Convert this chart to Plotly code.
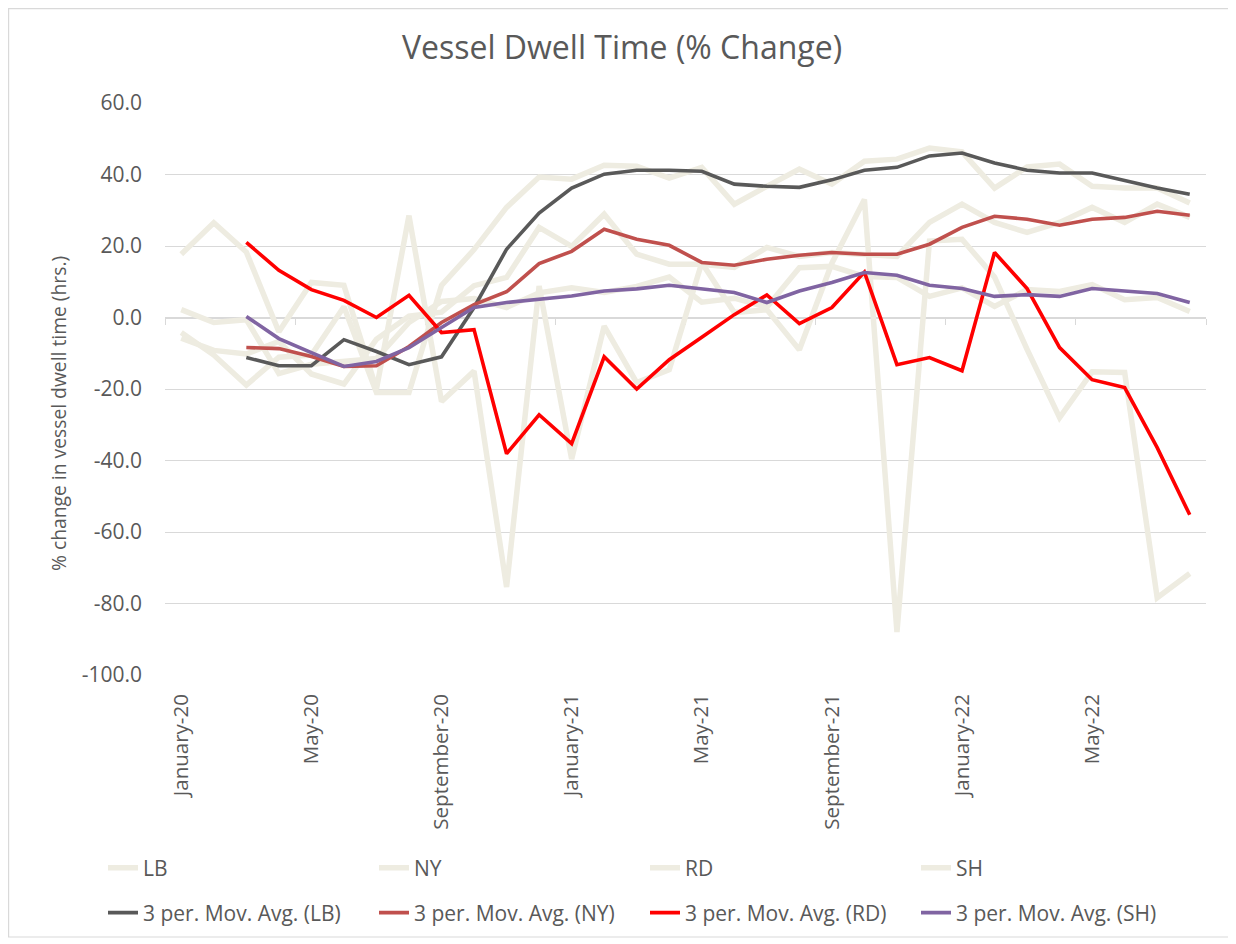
import plotly.graph_objects as go

months = ["January-20", "February-20", "March-20", "April-20", "May-20", "June-20",
          "July-20", "August-20", "September-20", "October-20", "November-20", "December-20",
          "January-21", "February-21", "March-21", "April-21", "May-21", "June-21",
          "July-21", "August-21", "September-21", "October-21", "November-21", "December-21",
          "January-22", "February-22", "March-22", "April-22", "May-22", "June-22",
          "July-22", "August-22"]

LB = [-4.2, -10.5, -18.9, -11.1, -10.5, 3.0, -21.0, -21.0, 9.0, 19.0, 30.8, 39.3,
      38.7, 42.6, 42.3, 39.0, 42.0, 31.7, 36.7, 41.5, 37.3, 43.7, 44.3, 47.4,
      46.3, 36.2, 42.1, 42.9, 36.7, 36.2, 36.2, 32.0]
NY = [-5.8, -9.2, -10.2, -6.7, -15.8, -18.6, -6.1, 0.4, 1.5, 8.9, 11.2, 25.2,
      19.9, 28.9, 17.7, 14.9, 14.9, 14.0, 19.6, 17.1, 18.2, 17.8, 17.1, 26.6,
      31.7, 26.6, 23.8, 26.6, 30.8, 26.6, 31.7, 28.0]
RD = [17.7, 26.5, 18.3, -4.0, 9.8, 9.0, -20.0, 28.5, -23.5, -15.0, -75.4, 8.8,
      -39.6, -2.4, -18.2, -14.6, 15.3, 1.4, 2.2, -9.0, 15.2, 33.0, -88.0, 21.4,
      21.9, 11.3, -8.9, -28.0, -15.2, -15.4, -78.4, -71.6]
SH = [2.2, -1.4, -0.6, -15.7, -13.1, -12.3, -11.5, -1.4, 4.5, 5.3, 2.8, 6.9,
      8.3, 7.0, 8.7, 11.3, 4.3, 5.4, 2.9, 13.9, 14.3, 11.5, 11.2, 5.9,
      8.3, 3.1, 7.8, 7.3, 9.2, 5.0, 5.6, 1.7]

# 3-period moving averages (March-20 .. August-22)
LB_MA = [-11.2, -13.5, -13.5, -6.2, -9.5, -13.2, -11.0, 2.8, 19.1, 29.2,
         36.2, 40.1, 41.2, 41.2, 40.9, 37.3, 36.7, 36.4, 38.5, 41.2, 42.0, 45.2,
         46.0, 43.2, 41.2, 40.4, 40.4, 38.4, 36.2, 34.5]
NY_MA = [-8.4, -8.7, -10.9, -13.7, -13.5, -8.1, -1.4, 3.6, 7.2, 15.1,
         18.5, 24.7, 21.9, 20.2, 15.4, 14.6, 16.3, 17.4, 18.2, 17.7, 17.7, 20.5,
         25.2, 28.3, 27.5, 25.8, 27.5, 28.0, 29.7, 28.6]
RD_MA = [21.0, 13.2, 7.8, 4.8, 0.0, 6.2, -4.2, -3.4, -38.1, -27.2,
         -35.3, -11.0, -20.0, -11.8, -5.5, 0.8, 6.3, -1.7, 2.8, 12.7, -13.2, -11.2,
         -14.9, 18.2, 8.1, -8.4, -17.4, -19.6, -36.4, -55.2]
SH_MA = [0.3, -5.9, -9.8, -13.7, -12.3, -8.4, -2.8, 2.8, 4.2, 5.0,
         6.0, 7.4, 8.0, 9.0, 8.1, 7.0, 4.2, 7.4, 9.8, 12.6, 11.8, 9.0,
         8.1, 5.9, 6.4, 5.9, 8.1, 7.3, 6.7, 4.2]

tick_labels = ["January-20", "May-20", "September-20", "January-21",
               "May-21", "September-21", "January-22", "May-22"]
y_ticks = [60, 40, 20, 0, -20, -40, -60, -80, -100]
y_ticktext = ["60.0", "40.0", "20.0", "0.0", "-20.0", "-40.0", "-60.0", "-80.0", "-100.0"]

raw_names = ["LB", "NY", "RD", "SH"]
raw_series = [LB, NY, RD, SH]
ma_series = [LB_MA, NY_MA, RD_MA, SH_MA]
ma_colors = ["#595959", "#C0504D", "#FF0000", "#8064A2"]

# the page body adds an 8px offset; layout is specified in page pixels
OFF = 8
PAGE_W, PAGE_H = 1236, 944
W, H = PAGE_W - OFF, PAGE_H - OFF
L, R, T, B = 165, 1206, 103, 675          # plot area in page pixels
TXT = "#595959"
GRID = "#D9D9D9"
FONT = "Open Sans"


def px_x(p):
    return (p - L) / (R - L)


def px_y(p):
    return (B - p) / (B - T)


fig = go.Figure()

for name, vals in zip(raw_names, raw_series):
    fig.add_trace(go.Scatter(x=months, y=vals, mode="lines", name=name,
                             line=dict(color="#EEECE1", width=5.5),
                             legend="legend"))

for name, vals, col in zip(raw_names, ma_series, ma_colors):
    fig.add_trace(go.Scatter(x=months[2:], y=vals, mode="lines",
                             name=f"3 per. Mov. Avg. ({name})",
                             line=dict(color=col, width=3.6),
                             legend="legend2"))

# helper trace so the zero-crossing category axis is drawn
fig.add_trace(go.Scatter(x=[0], y=[None], xaxis="x2", showlegend=False,
                         hoverinfo="skip", mode="lines"))

n = len(months)
fig.update_layout(
    width=W, height=H,
    margin=dict(l=L - OFF, r=PAGE_W - R, t=T - OFF, b=PAGE_H - B, autoexpand=False),
    paper_bgcolor="white", plot_bgcolor="white",
    font=dict(family=FONT, color=TXT),
    title=dict(text="Vessel Dwell Time (% Change)", x=0.5, xref="container",
               xanchor="center", y=1 - (48 - OFF) / H, yanchor="middle",
               font=dict(size=32, color=TXT, family=FONT)),
    xaxis=dict(type="category", categoryorder="array", categoryarray=months,
               range=[-0.5, n - 0.5], tickmode="array", tickvals=tick_labels,
               ticktext=tick_labels, tickangle=-90, ticks="", showgrid=False,
               zeroline=False, showline=False, ticklabelstandoff=14,
               tickfont=dict(size=20.5, color=TXT)),
    xaxis2=dict(overlaying="x", anchor="free", position=px_y(318.3), side="bottom",
                range=[-0.5, n - 0.5], tickmode="array",
                tickvals=[i - 0.5 for i in range(0, n + 1, 4)],
                showticklabels=False, ticks="outside", ticklen=6,
                tickcolor=GRID, tickwidth=1.3, showline=True, linecolor=GRID,
                linewidth=1.3, showgrid=False, zeroline=False, layer="below traces"),
    yaxis=dict(range=[-100, 60], tickmode="array", tickvals=y_ticks, ticktext=y_ticktext,
               showgrid=True, gridcolor=GRID, gridwidth=1.3, zeroline=False,
               showline=False, ticks="", ticklabelstandoff=22,
               tickfont=dict(size=21, color=TXT)),
    legend=dict(orientation="h", x=px_x(103), xanchor="left", y=px_y(868), yanchor="middle",
                entrywidth=226, entrywidthmode="pixels",
                font=dict(size=21, color=TXT, family=FONT), bgcolor="rgba(0,0,0,0)"),
    legend2=dict(orientation="h", x=px_x(103), xanchor="left", y=px_y(913), yanchor="middle",
                 entrywidth=226, entrywidthmode="pixels",
                 font=dict(size=21, color=TXT, family=FONT), bgcolor="rgba(0,0,0,0)"),
    annotations=[dict(text="% change in vessel dwell time (hrs.)", textangle=-90,
                      xref="paper", yref="paper", x=px_x(58), y=px_y(414),
                      xanchor="center", yanchor="middle", showarrow=False,
                      font=dict(size=19.3, color=TXT, family=FONT))],
    shapes=[dict(type="rect", xref="paper", yref="paper",
                 x0=px_x(8.6), x1=px_x(1229), y0=px_y(937), y1=px_y(8.6),
                 line=dict(color=GRID, width=1.2), layer="below")],
    showlegend=True,
)

fig.write_html("out.html")
